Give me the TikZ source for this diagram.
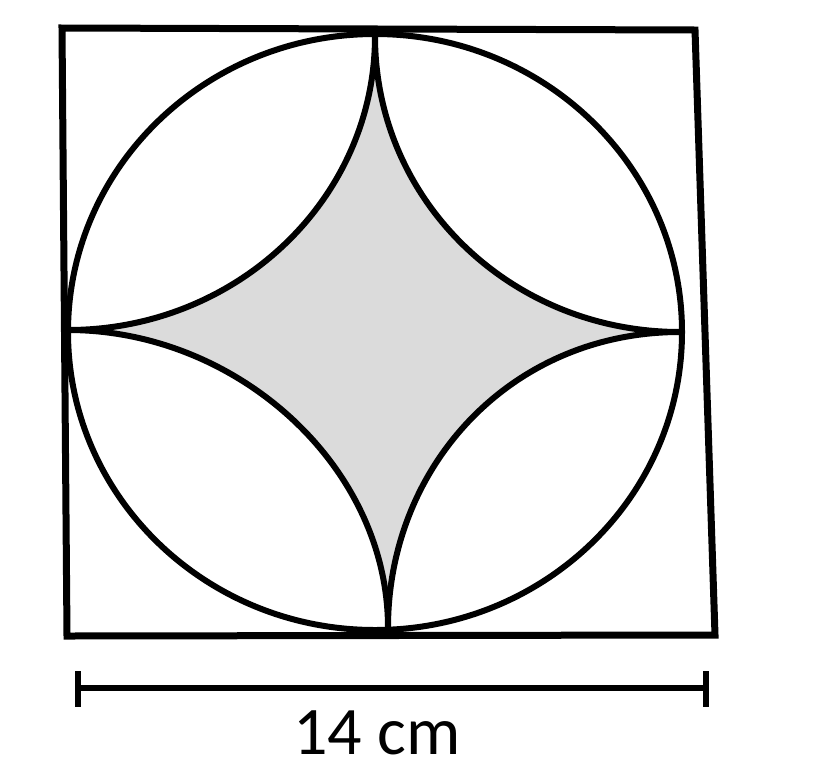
\documentclass[tikz,border=0pt]{standalone}
\usepackage{fontspec}
\setmainfont{Carlito}
\begin{document}
\begin{tikzpicture}[x=1pt,y=-1pt,
  outline/.style={line width=7pt,line join=miter},
  arcline/.style={line width=6pt,line join=round},
  starfill/.style={fill=gray!28}]
\useasboundingbox (0,0) rectangle (837,774);
% star points
\coordinate (T) at (375,36);
\coordinate (L) at (68,330);
\coordinate (R) at (680,332);
\coordinate (B) at (388,628);
% shaded star
\fill[starfill] (T) .. controls (375,199) and (237,330) .. (L)
  .. controls (237,330) and (388,466) .. (B)
  .. controls (388,466) and (511,332) .. (R)
  .. controls (511,332) and (375,201) .. (T) -- cycle;
% arcs
\draw[arcline] (T) .. controls (375,199) and (237,330) .. (L);
\draw[arcline] (L) .. controls (237,330) and (388,466) .. (B);
\draw[arcline] (B) .. controls (388,466) and (511,332) .. (R);
\draw[arcline] (R) .. controls (511,332) and (375,201) .. (T);
% circle
\draw[line width=6pt] (375,332) ellipse [x radius=307, y radius=298];
% square frame
\draw[outline] (62,28) -- (695,30) -- (715,635) -- (67,636) -- cycle;
% ruler
\coordinate (a) at (78,688);
\coordinate (b) at (706,688);
\draw[line width=6pt] (a) -- (b);
\draw[line width=6pt] (78,671) -- (78,707);
\draw[line width=6pt] (706,671) -- (706,707);
\node[font=\fontsize{68}{70}\selectfont, inner sep=0pt, anchor=base] (lbl) at (377,754) {14 cm};
\end{tikzpicture}
\end{document}
